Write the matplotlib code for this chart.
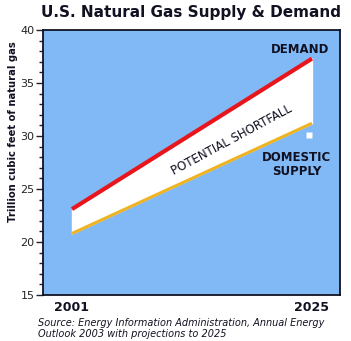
import matplotlib.pyplot as plt
import numpy as np

# data
years = [2001, 2025]
demand = [23.1, 37.3]
domestic_supply = [20.8, 31.2]
year_labels = ['2001', '2025']
y_ticks = [15, 20, 25, 30, 35, 40]

blue = '#80b9f6'
red = '#e8161c'
gold = '#efb322'
dark = '#111122'

fig = plt.figure(figsize=(3.51, 3.41), dpi=100)
ax = fig.add_axes([0.1225, 0.135, 0.846, 0.777])
ax.set_facecolor(blue)

# shortfall band between the two projections
ax.fill_between(years, domestic_supply, demand, color='white', zorder=2)
ax.plot(years, demand, color=red, lw=3.0, solid_capstyle='butt', zorder=3)
ax.plot(years, domestic_supply, color=gold, lw=2.2, solid_capstyle='butt', zorder=3)
# little white square under the supply end
ax.plot([2024.7], [30.1], marker='s', ms=5, color='white', mec='none', zorder=3)

ax.set_xlim(1998.1, 2027.8)
ax.set_ylim(15, 40)
ax.set_yticks(y_ticks)
ax.set_yticks(np.arange(15, 41, 1), minor=True)
ax.set_xticks([])
ax.tick_params(axis='y', which='major', length=5, width=1, labelsize=8,
               colors='#222222', pad=1)
ax.tick_params(axis='y', which='minor', length=3, width=1, color='#222222')
for s in ax.spines.values():
    s.set_color(dark)
    s.set_linewidth(1.3)

# year labels under the axis
for yr, lab in zip(years, year_labels):
    ax.text(yr, 14.4, lab, ha='center', va='top', fontsize=9,
            fontweight='bold', color=dark)

ax.text(2023.8, 38.2, 'DEMAND', ha='center', va='center', fontsize=8.5,
        fontweight='bold', color=dark)
ax.text(2023.5, 27.3, 'DOMESTIC\nSUPPLY', ha='center', va='center', fontsize=8.5,
        fontweight='bold', color=dark, linespacing=1.05)
ax.text(2017.0, 29.6, 'POTENTIAL SHORTFALL', ha='center', va='center',
        fontsize=8.5, rotation=28.3, color=dark, rotation_mode='anchor')

fig.text(0.545, 0.985, 'U.S. Natural Gas Supply & Demand', ha='center', va='top',
         fontsize=11, fontweight='bold', color=dark)
fig.text(0.037, 0.613, 'Trillion cubic feet of natural gas', rotation=90,
         ha='center', va='center', fontsize=7.2, fontweight='bold', color=dark)
fig.text(0.108, 0.068, 'Source: Energy Information Administration, Annual Energy\n'
         'Outlook 2003 with projections to 2025', ha='left', va='top',
         fontsize=7, style='italic', color=dark, linespacing=1.1)

fig.savefig('out.png', dpi=100, facecolor='white')
